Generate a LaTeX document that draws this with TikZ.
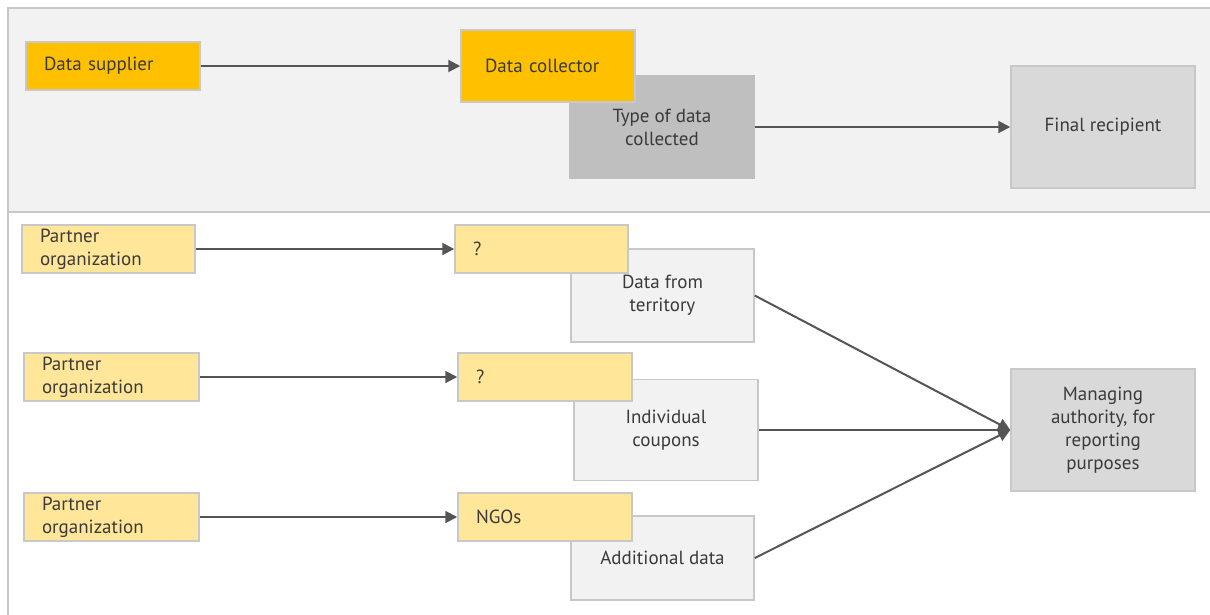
\documentclass[tikz,border=0pt]{standalone}
\usepackage{fontspec}
\setmainfont{PT Sans}
\usetikzlibrary{arrows.meta}
\definecolor{ey}{HTML}{FFC000}
\definecolor{lightey}{HTML}{FFE699}
\definecolor{panel}{HTML}{F2F2F2}
\definecolor{edge}{HTML}{C8C8C8}
\definecolor{midgray}{HTML}{BFBFBF}
\definecolor{boxgray}{HTML}{D9D9D9}
\definecolor{ink}{HTML}{3A3A3A}
\definecolor{arrowc}{HTML}{555555}
\begin{document}
\begin{tikzpicture}[x=1pt,y=-1pt,
  every node/.style={font=\fontsize{19}{23}\selectfont, text=ink},
  base/.style={draw=edge, line width=1.5pt, rectangle, inner sep=0pt},
  ybox/.style={base, fill=ey, align=left, inner xsep=18pt},
  lybox/.style={base, fill=lightey, align=left, inner xsep=18pt},
  gbox/.style={base, fill=boxgray, align=center},
  dgbox/.style={base, draw=midgray, fill=midgray, align=center},
  pbox/.style={base, fill=panel, align=center},
  conn/.style={draw=arrowc, line width=2pt, -{Triangle[length=12pt,width=12pt]}}
]
\useasboundingbox (0,0) rectangle (1210,614);
\fill[white] (0,0) rectangle (1210,614);
% panels
\draw[edge, line width=1.2pt, fill=panel] (1212,8) -- (8,8) -- (8,212) -- (1212,212);
\draw[edge, line width=1.2pt] (8,212) -- (8,616);

% top row
\node[ybox, minimum width=174pt, minimum height=48pt, text width=138pt] (sup) at (113,66) {Data supplier};
\node[dgbox, minimum width=184pt, minimum height=102pt] (type) at (662,127) {Type of data\\collected};
\node[ybox, inner xsep=24pt, minimum width=174pt, minimum height=72pt, text width=126pt] (col) at (548,66) {Data collector};
\node[gbox, minimum width=184pt, minimum height=122pt] (fin) at (1103,127) {Final recipient};
\draw[conn] (sup.east) -- (col.west);
\draw[conn] (type.east) -- (fin.west);

% lower rows
\node[pbox, minimum width=183pt, minimum height=93pt] (ter) at (662.5,295.5) {Data from\\territory};
\node[pbox, minimum width=184pt, minimum height=101pt] (cou) at (666,430) {Individual\\coupons};
\node[pbox, minimum width=183pt, minimum height=84pt] (add) at (662.5,558) {Additional data};

\node[lybox, minimum width=173pt, minimum height=48pt, text width=137pt] (p1) at (108.5,249) {Partner\\organization};
\node[lybox, minimum width=173pt, minimum height=48pt, text width=137pt] (q1) at (541.5,249) {?};
\node[lybox, minimum width=175pt, minimum height=48pt, text width=139pt] (p2) at (111.5,377) {Partner\\organization};
\node[lybox, minimum width=174pt, minimum height=48pt, text width=138pt] (q2) at (545,377) {?};
\node[lybox, minimum width=175pt, minimum height=48pt, text width=139pt] (p3) at (111.5,517) {Partner\\organization};
\node[lybox, minimum width=174pt, minimum height=48pt, text width=138pt] (ngo) at (545,517) {NGOs};

\node[gbox, minimum width=184pt, minimum height=122pt] (man) at (1103,430) {Managing\\authority, for\\reporting\\purposes};

\draw[conn] (p1.east) -- (q1.west);
\draw[conn] (p2.east) -- (q2.west);
\draw[conn] (p3.east) -- (ngo.west);
\draw[conn] (ter.east) -- (man.west);
\draw[conn] (cou.east) -- (man.west);
\draw[conn] (add.east) -- (man.west);
\end{tikzpicture}
\end{document}
